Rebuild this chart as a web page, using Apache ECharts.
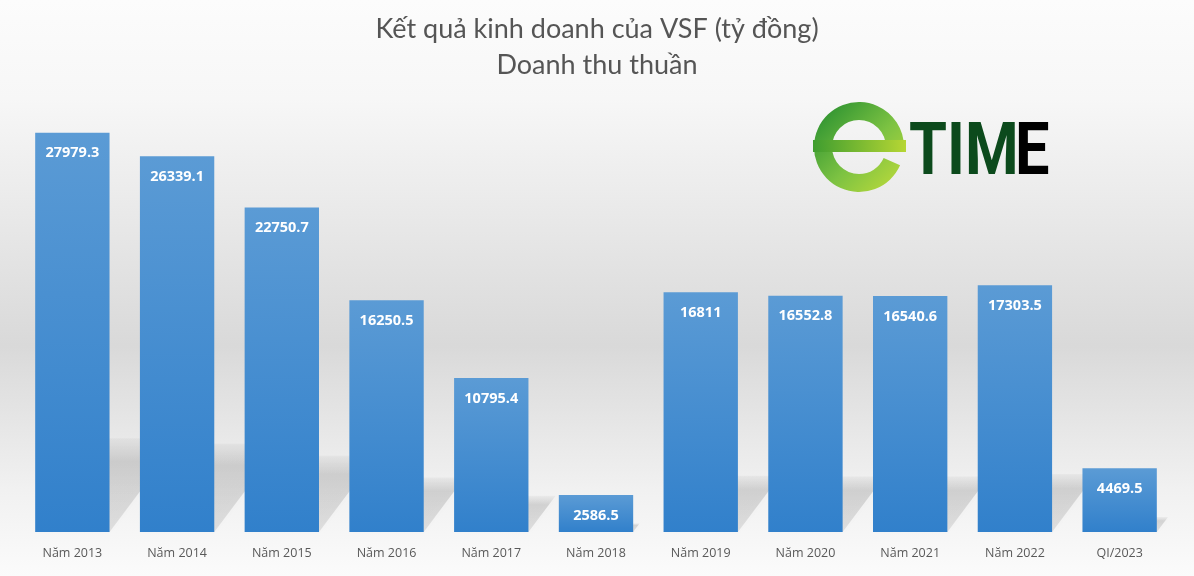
<!DOCTYPE html>
<html><head><meta charset="utf-8">
<script src="https://cdn.jsdelivr.net/npm/echarts@6/dist/echarts.min.js"></script>
<style>html,body{margin:0;padding:0;}#c{width:1194px;height:576px;}</style>
</head><body><div id="c"></div>
<script>
const categories = ['Năm 2013','Năm 2014','Năm 2015','Năm 2016','Năm 2017','Năm 2018','Năm 2019','Năm 2020','Năm 2021','Năm 2022','QI/2023'];
const revenue = [27979.3, 26339.1, 22750.7, 16250.5, 10795.4, 2586.5, 16811, 16552.8, 16540.6, 17303.5, 4469.5];
const titleLines = ['Kết quả kinh doanh của VSF (tỷ đồng)', 'Doanh thu thuần'];

const chart = echarts.init(document.getElementById('c'));
const FONT = '"Open Sans", "Noto Sans", sans-serif';
const TFONT = 'Lato, "Open Sans", sans-serif';
chart.setOption({
  animation: false,
  backgroundColor: {type:'linear', x:0, y:0, x2:0, y2:1, colorStops:[
    {offset:0, color:'#fcfcfc'}, {offset:0.17, color:'#f7f7f7'},
    {offset:0.6, color:'#d9d9d9'}, {offset:0.85, color:'#f1f1f1'}, {offset:1, color:'#fbfbfb'}]},
  title: [
    {text: titleLines[0], left: 'center', top: 11, textStyle:{fontFamily:TFONT, fontSize:27, fontWeight:'normal', color:'#555555'}},
    {text: titleLines[1], left: 'center', top: 47, textStyle:{fontFamily:TFONT, fontSize:27, fontWeight:'normal', color:'#555555'}}
  ],
  grid: {left: 20, right: 22, top: 104, bottom: 44},
  xAxis: {type:'category', data: categories,
    axisLine:{show:false}, axisTick:{show:false},
    axisLabel:{color:'#595959', fontFamily:FONT, fontSize:12.5, margin:15}},
  yAxis: {type:'value', min:0, max:30000, show:false, splitLine:{show:false}},
  series: [
    {type:'custom', z:1, silent:true,
      renderItem: function(params, api){
        const idx = api.value(0), v = api.value(1);
        const base = api.coord([idx, 0]);
        const top = api.coord([idx, v]);
        const w = api.size([1,0])[0]*0.71;
        const h = (base[1]-top[1])*0.235;
        const dx = h*0.75;
        const x0 = base[0]-w/2, x1 = base[0]+w/2, y0 = base[1];
        return {type:'polygon', shape:{points:[[x0,y0],[x1,y0],[x1+dx,y0-h],[x0+dx,y0-h]]},
          style:{fill:{type:'linear',x:0,y:0,x2:0,y2:1,colorStops:[
            {offset:0,color:'rgba(0,0,0,0.03)'},{offset:0.25,color:'rgba(0,0,0,0.13)'},{offset:1,color:'rgba(0,0,0,0.09)'}]},
            shadowBlur:6, shadowColor:'rgba(0,0,0,0.1)'}};
      },
      data: revenue.map((v,i)=>[i,v])
    },
    {type:'bar', z:2, data: revenue, barCategoryGap:'29%',
      itemStyle:{color:{type:'linear',x:0,y:0,x2:0,y2:1,colorStops:[{offset:0,color:'#5b9bd5'},{offset:1,color:'#3180cb'}]}},
      label:{show:true, position:'insideTop', distance:13, color:'#ffffff', fontFamily:FONT, fontWeight:'bold', fontSize:14.5}
    }
  ],
  graphic: [
    {type:'sector', shape:{cx:859, cy:147, r:45, r0:27, startAngle:0.42, endAngle:Math.PI*2}, z:10,
      style:{fill:{type:'linear',x:0,y:0,x2:1,y2:1,colorStops:[{offset:0,color:'#1f8a2e'},{offset:0.55,color:'#7cc242'},{offset:1,color:'#c3dd3a'}]}}},
    {type:'rect', shape:{x:813, y:140, width:93, height:12}, z:11,
      style:{fill:{type:'linear',x:0,y:0,x2:1,y2:0,colorStops:[{offset:0,color:'#3f9d2f'},{offset:1,color:'#b6d634'}]}}},
    {type:'text', x:909, y:192, z:11, scaleX:0.84,
      style:{text:'TIM', font:'bold 73px Roboto', fill:'#0c4a1c', textVerticalAlign:'bottom'}},
    {type:'text', x:1015, y:192, z:11, scaleX:0.84,
      style:{text:'E', font:'bold 73px Roboto', textVerticalAlign:'bottom',
        fill:{type:'linear',x:0,y:0,x2:1,y2:0,colorStops:[{offset:0,color:'#1d6e25'},{offset:1,color:'#8cc63f'}]}}}
  ]
});
</script></body></html>
